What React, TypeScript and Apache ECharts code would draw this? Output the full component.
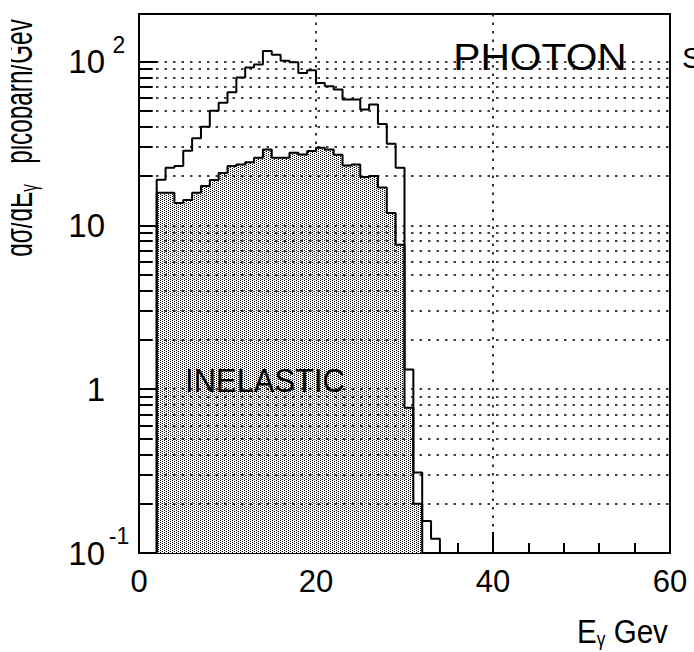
import React, { useEffect, useRef } from 'react';
import * as echarts from 'echarts';

// ---- data ----
const BIN_START = 2; // GeV, lower edge of the first bin
const BIN_WIDTH = 1; // GeV
// total photon spectrum, dσ/dEγ (pb/GeV), bins 2-3, 3-4, ... 33-34 GeV
const totalValues = [
  19, 22.5, 23, 28.5, 34, 40, 50, 56, 65, 80, 92, 96, 116, 110, 101, 99, 85, 88.5, 74, 70.6,
  67.5, 58.6, 58.6, 51, 54.7, 41.5, 31.5, 22.5, 1.32, 0.31, 0.157, 0.122,
];
// inelastic part, bins 2-3 ... 31-32 GeV
const inelasticValues = [
  15.8, 15.8, 13.7, 14.3, 15.8, 17.4, 18.9, 20.9, 23, 23.5, 24.3, 25.9, 29, 25.9, 25.9, 27.7,
  27.1, 28.4, 29.8, 29, 27, 23.2, 23.5, 19.7, 20, 17, 11.9, 7.6, 0.77, 0.2,
];
const xTickLabels = ['0', '20', '40', '60'];
// y tick labels: mantissa part and exponent (superscript) part, by decade exponent
const yBaseLabels: Record<string, string> = { '-1': '10', '0': '1', '1': '10', '2': '10' };
const yExpLabels: Record<string, string> = { '-1': '-1', '2': '2' };
const yGridValues = [
  0.2, 0.3, 0.4, 0.5, 0.6, 0.7, 0.8, 0.9, 1, 2, 3, 4, 5, 6, 7, 8, 9, 10, 20, 30, 40, 50, 60, 70,
  80, 90, 100,
];
const yMinorTickValues = [
  0.2, 0.3, 0.4, 0.5, 0.6, 0.7, 0.8, 0.9, 2, 3, 4, 5, 6, 7, 8, 9, 20, 30, 40, 50, 60, 70, 80, 90,
];

const X_MIN = 0;
const X_MAX = 60;
const Y_MIN = 0.1;
const Y_MAX = 195;
const FONT = 'Liberation Sans';

function stepPoints(values: number[]): number[][] {
  const pts: number[][] = [[BIN_START, Y_MIN]];
  values.forEach((v, i) => pts.push([BIN_START + i * BIN_WIDTH, v]));
  const end = BIN_START + values.length * BIN_WIDTH;
  pts.push([end, values[values.length - 1]]);
  pts.push([end, Y_MIN]);
  return pts;
}

function decadeKey(v: number): string | null {
  const l = Math.log10(v);
  const e = Math.round(l);
  if (Math.abs(l - e) > 1e-6) return null;
  return String(e);
}

function makePattern(): string {
  const c = document.createElement('canvas');
  c.width = 4;
  c.height = 4;
  const ctx = c.getContext('2d')!;
  ctx.fillStyle = '#ffffff';
  ctx.fillRect(0, 0, 4, 4);
  ctx.fillStyle = '#000000';
  [[0, 0], [2, 1], [0, 2], [2, 3]].forEach(([x, y]) => ctx.fillRect(x, y, 1, 1));
  ctx.fillStyle = '#b0b0b0';
  [[1, 3]].forEach(([x, y]) => ctx.fillRect(x, y, 1, 1));
  return c.toDataURL();
}

export default function App() {
  const ref = useRef<HTMLDivElement>(null);

  useEffect(() => {
    if (!ref.current) return;
    const chart = echarts.init(ref.current, null, { renderer: 'svg' });

    const dotted = { color: '#000', width: 1.6, type: [2.5, 6] as number[] };
    const gridLineData = yGridValues.map((v) => ({ yAxis: v, lineStyle: dotted }));
    const minorTickData = yMinorTickValues.map((v) => [
      { coord: [X_MIN, v], lineStyle: { color: '#000', width: 2, type: 'solid' } },
      { coord: [1.55, v] },
    ]);

    const yCommon = {
      type: 'log',
      logBase: 10,
      min: Y_MIN,
      max: Y_MAX,
      position: 'left',
      splitLine: { show: false },
    };

    const option: any = {
      animation: false,
      textStyle: { fontFamily: FONT },
      grid: {
        left: 139,
        top: 14,
        width: 531,
        height: 539,
        show: true,
        borderColor: '#000',
        borderWidth: 2,
        backgroundColor: 'transparent',
      },
      xAxis: {
        type: 'value',
        min: X_MIN,
        max: X_MAX,
        interval: 20,
        axisLine: { show: false },
        axisTick: { show: true, inside: true, length: 21, lineStyle: { color: '#000', width: 2 } },
        minorTick: { show: true, splitNumber: 5, length: 10, lineStyle: { color: '#000', width: 2 } },
        axisLabel: {
          color: '#000',
          fontSize: 31,
          margin: 13,
          fontFamily: FONT,
          formatter: (v: number) => xTickLabels[Math.round(v / 20)] ?? '',
        },
        splitLine: { show: true, lineStyle: dotted },
      },
      yAxis: [
        {
          ...yCommon,
          axisLine: { show: false },
          axisTick: { show: true, inside: true, length: 18, lineStyle: { color: '#000', width: 2 } },
          axisLabel: {
            color: '#000',
            fontSize: 33,
            align: 'right',
            margin: 34,
            fontFamily: FONT,
            formatter: (v: number) => {
              const k = decadeKey(v);
              return k === null ? '' : yBaseLabels[k] ?? '';
            },
          },
        },
        {
          ...yCommon,
          axisLine: { show: false },
          axisTick: { show: false },
          axisLabel: {
            color: '#000',
            fontSize: 23,
            lineHeight: 34,
            align: 'center',
            verticalAlign: 'bottom',
            margin: 20,
            fontFamily: FONT,
            formatter: (v: number) => {
              const k = decadeKey(v);
              return k === null ? '' : yExpLabels[k] ?? '';
            },
          },
        },
      ],
      series: [
        {
          name: 'grid',
          type: 'line',
          data: [],
          z: 1,
          silent: true,
          markLine: {
            silent: true,
            symbol: ['none', 'none'],
            label: { show: false },
            animation: false,
            data: [...gridLineData, ...minorTickData],
          },
        },
        {
          name: 'inelastic',
          type: 'line',
          step: 'end',
          data: stepPoints(inelasticValues),
          showSymbol: false,
          z: 3,
          lineStyle: { color: '#000', width: 2 },
          areaStyle: {
            origin: 'start',
            opacity: 1,
            color: { image: makePattern(), repeat: 'repeat', imageWidth: 4, imageHeight: 4 },
          },
        },
        {
          name: 'total',
          type: 'line',
          step: 'end',
          data: stepPoints(totalValues),
          showSymbol: false,
          z: 4,
          lineStyle: { color: '#000', width: 2 },
        },
      ],
      graphic: [
        {
          type: 'text',
          x: 540,
          y: 57,
          scaleX: 1.1,
          z: 10,
          style: { text: 'PHOTON', fontSize: 37, fontFamily: FONT, fill: '#000', align: 'center', verticalAlign: 'middle' },
        },
        {
          type: 'text',
          x: 265,
          y: 380,
          scaleX: 0.91,
          z: 10,
          style: { text: 'INELASTIC', fontSize: 34, fontFamily: FONT, fill: '#000', align: 'center', verticalAlign: 'middle' },
        },
        {
          type: 'text',
          x: 577,
          y: 631,
          scaleX: 0.87,
          z: 10,
          style: {
            text: '{b|E}{s|γ}{b| Gev}',
            align: 'left',
            verticalAlign: 'middle',
            rich: {
              b: { fontSize: 34, fontFamily: FONT, fill: '#000', lineHeight: 36 },
              s: { fontSize: 20, fontFamily: FONT, fill: '#000', verticalAlign: 'bottom', lineHeight: 20 },
            },
          },
        },
        {
          type: 'text',
          x: 41,
          y: 138,
          rotation: Math.PI / 2,
          scaleX: 0.64,
          z: 10,
          style: {
            text: '{t|dσ/dE}{s|γ}{t|   picobarn/Gev}',
            align: 'center',
            verticalAlign: 'bottom',
            rich: {
              t: { fontSize: 38, fontFamily: FONT, fill: '#000', lineHeight: 44 },
              s: { fontSize: 24, fontFamily: FONT, fill: '#000', verticalAlign: 'bottom', lineHeight: 24 },
            },
          },
        },
        {
          // the scan is cropped at the left edge: hide the cut-off strip of the axis title
          type: 'rect',
          shape: { x: 0, y: 0, width: 11, height: 300 },
          z: 11,
          style: { fill: '#fff' },
        },
        {
          type: 'text',
          x: 682,
          y: 57,
          z: 10,
          style: { text: 'S', fontSize: 30, fontFamily: FONT, fill: '#000', align: 'left', verticalAlign: 'middle' },
        },
      ],
    };

    chart.setOption(option);
    return () => chart.dispose();
  }, []);

  return (
    <div
      ref={ref}
      style={{ position: 'absolute', left: 0, top: 0, width: 694, height: 652, background: '#fff' }}
    />
  );
}
